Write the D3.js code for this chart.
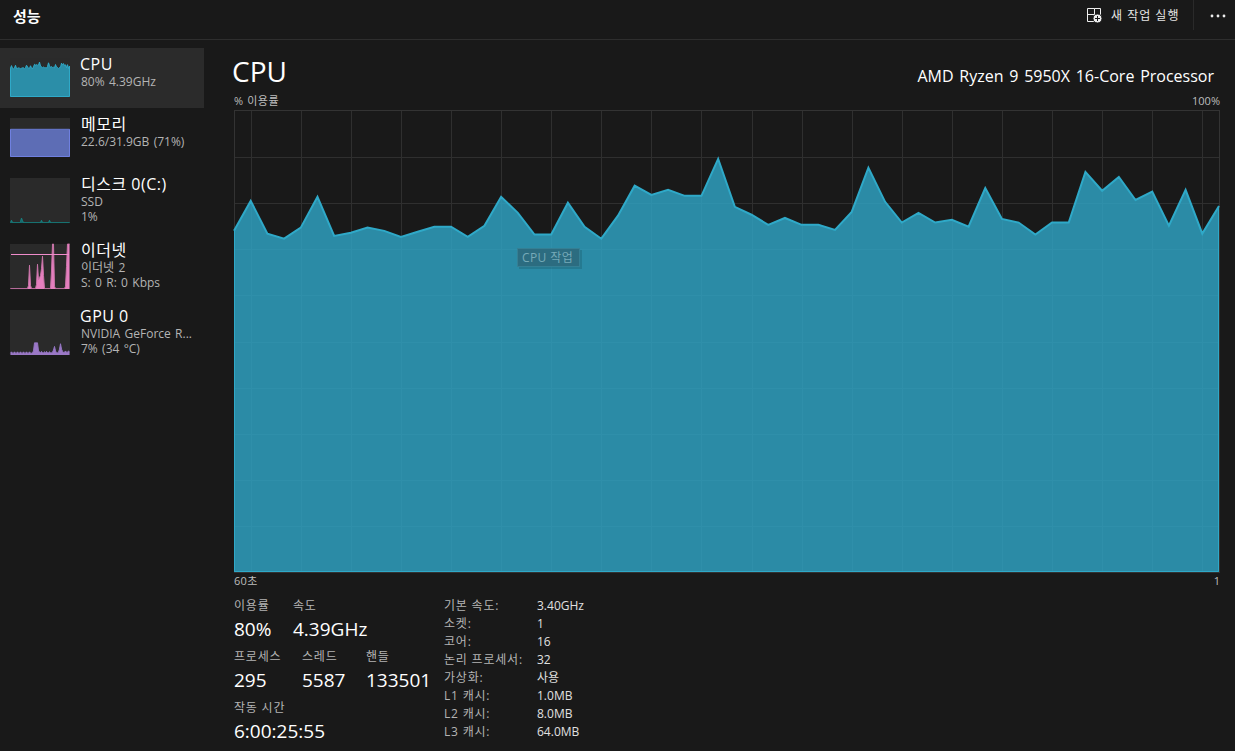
<!DOCTYPE html>
<html lang="ko">
<head>
<meta charset="utf-8">
<title>성능</title>
<script src="https://cdn.jsdelivr.net/npm/d3@7"></script>
<style>
  html, body { margin: 0; padding: 0; background: #191919; overflow: hidden; }
  svg { display: block; }
  text { font-family: "Open Sans", "Noto Sans CJK KR", sans-serif; fill: #fff; }
  .small { font-size: 11px; fill: #bdbdbd; }
  .label { font-size: 12px; fill: #b4b4b4; letter-spacing: 0.8px; }
  .big { font-size: 19px; fill: #fff; }
  .sub { font-size: 12px; fill: #b4b4b4; word-spacing: 1.2px; }
  .name { font-size: 16px; fill: #fff; letter-spacing: 0.5px; }
</style>
</head>
<body>
<svg id="chart" width="1235" height="751"></svg>
<script>
// last 60 seconds of cpu use, %
const cpuUsage = [74.0, 80.5, 73.4, 72.3, 74.7, 81.4, 72.9, 73.6, 74.7, 74.0,
  72.7, 73.8, 74.9, 74.9, 72.7, 75.1, 81.4, 77.9, 73.2, 73.2,
  80.1, 74.9, 72.3, 77.3, 83.8, 81.8, 82.9, 81.6, 81.6, 89.6,
  79.2, 77.5, 75.3, 76.8, 75.3, 75.3, 74.2, 78.1, 87.7, 80.3,
  75.8, 77.9, 75.8, 76.4, 74.9, 83.3, 76.6, 75.8, 73.2, 75.8,
  75.8, 86.8, 82.7, 85.7, 80.7, 82.5, 75.1, 82.9, 73.4, 79.4];

// sidebar sparklines, same 60 seconds
const memUsage = [71, 71, 71, 71, 71, 71, 71, 71, 71, 71, 71, 71, 71, 71, 71, 71, 71, 71, 71, 71,
  71, 71, 71, 71, 71, 71, 71, 71, 71, 71, 71, 71, 71, 71, 71, 71, 71, 71, 71, 71,
  71, 71, 71, 71, 71, 71, 71, 71, 71, 71, 71, 71, 71, 71, 71, 71, 71, 71, 71, 71];
const diskUsage = [1, 6, 1, 1, 1, 1, 1, 1, 1, 1, 3, 11, 5, 1, 1, 1, 1, 1, 1, 1,
  1, 1, 1, 1, 1, 1, 1, 1, 1, 1, 1, 6, 1, 1, 1, 1, 1, 1, 1, 6,
  1, 1, 1, 1, 1, 1, 1, 1, 1, 1, 1, 1, 1, 1, 1, 1, 1, 1, 1, 1];
const ethUsage = [1, 1, 1, 1, 1, 1, 1, 1, 1, 1, 1, 1, 1, 1, 1, 1, 1, 1, 8, 53,
  8, 1, 1, 1, 1, 1, 10, 55, 20, 25, 30, 45, 73, 30, 1, 1, 1, 1, 1, 1,
  1, 40, 100, 100, 6, 1, 1, 1, 1, 1, 1, 1, 1, 1, 1, 6, 50, 100, 100, 100];
const gpuUsage = [4, 7, 4, 4, 7, 4, 4, 7, 4, 4, 7, 4, 4, 7, 4, 4, 7, 4, 4, 7,
  4, 4, 5, 9, 27, 27, 27, 27, 9, 7, 5, 8, 5, 5, 7, 5, 8, 5, 5, 7,
  5, 5, 6, 11, 19, 9, 5, 5, 6, 13, 25, 13, 8, 6, 6, 9, 6, 6, 9, 7];

const yGrid = [10, 20, 30, 40, 50, 60, 70, 80, 90];
const xGrid = [1, 4, 7, 10, 13, 16, 19, 22, 25, 28, 31, 34, 37, 40, 43, 46, 49, 52, 55, 58];

const sideNames = ['CPU', '메모리', '디스크 0(C:)', '이더넷', 'GPU 0'];
const sideLine1 = ['80% 4.39GHz', '22.6/31.9GB (71%)', 'SSD', '이더넷 2', 'NVIDIA GeForce R...'];
const sideLine2 = ['', '', '1%', 'S: 0 R: 0 Kbps', '7% (34 °C)'];
const sideSeries = [cpuUsage, memUsage, diskUsage, ethUsage, gpuUsage];
const sideColors = ['#2b8ea8', '#5d6db5', '#146a6e', '#e57fbf', '#9b78c6'];
const sideLines = ['#2fa9c8', '#6f80e0', '#17807f', '#c974a8', '#9576c4'];
const sideEdges = [true, true, false, false, false];
const sideTops = [58, 118, 178, 244, 310];
const sideBottoms = [97, 157, 223, 289, 355];
const sideNameY = [70, 130, 190, 256, 322];

const statLabels = ['이용률', '속도', '프로세스', '스레드', '핸들', '작동 시간'];
const statValues = ['80%', '4.39GHz', '295', '5587', '133501', '6:00:25:55'];
const statX = [234, 293, 234, 302, 366, 234];
const statY = [610, 610, 661, 661, 661, 712];

const infoLabels = ['기본 속도:', '소켓:', '코어:', '논리 프로세서:', '가상화:', 'L1 캐시:', 'L2 캐시:', 'L3 캐시:'];
const infoValues = ['3.40GHz', '1', '16', '32', '사용', '1.0MB', '8.0MB', '64.0MB'];

const svg = d3.select('#chart');

function addText(x, y, str, cls) {
  return svg.append('text').attr('x', x).attr('y', y).attr('class', cls || null).text(str);
}

// top bar
svg.append('line').attr('x1', 0).attr('x2', 1235).attr('y1', 39.5).attr('y2', 39.5).attr('stroke', '#2e2e2e');
svg.append('line').attr('x1', 1193.5).attr('x2', 1193.5).attr('y1', 0).attr('y2', 30).attr('stroke', '#2a2a2a');
addText(13, 22, '성능').style('font-size', '15px').style('font-weight', 700);
addText(1111, 20, '새 작업 실행').style('font-size', '12px').style('letter-spacing', '1px').style('fill', '#e6e6e6');

// new task icon
const icon = svg.append('g').attr('fill', 'none').attr('stroke', '#eee').attr('stroke-width', 1);
icon.append('path').attr('d', 'M1094.5 8.5H1087.5V21.5H1094.5M1087.5 14.5H1100.5M1094.5 8.5H1100.5V14.5M1094.5 8.5V21.5');
icon.append('circle').attr('cx', 1097.5).attr('cy', 18.5).attr('r', 4.5).attr('fill', '#eee').attr('stroke', '#191919');
icon.append('path').attr('d', 'M1095 18.5H1100M1097.5 16V21').attr('stroke', '#191919');

// more button
svg.append('g').attr('fill', '#eee').selectAll('circle').data([1212, 1218, 1224]).join('circle')
  .attr('cx', d => d).attr('cy', 16).attr('r', 1.4);

// sidebar
svg.append('rect').attr('x', 0).attr('y', 48).attr('width', 204).attr('height', 60).attr('fill', '#2b2b2b');

sideNames.forEach((name, i) => {
  const boxTop = sideTops[i];
  const boxBottom = sideBottoms[i];
  const sx = d3.scaleLinear().domain([0, 59]).range([10.5, 69.5]);
  const sy = d3.scaleLinear().domain([0, 100]).range([boxBottom, boxTop]);

  svg.append('rect').attr('x', 10).attr('y', boxTop).attr('width', 60).attr('height', boxBottom - boxTop).attr('fill', '#2a2a2a');
  const area = d3.area().x((d, k) => sx(k)).y0(boxBottom).y1(d => sy(d));
  const line = d3.line().x((d, k) => sx(k)).y(d => sy(d));
  svg.append('path').attr('d', area(sideSeries[i])).attr('fill', sideColors[i]);
  svg.append('path').attr('d', line(sideSeries[i])).attr('fill', 'none').attr('stroke', sideLines[i]).attr('stroke-width', 1);

  // left, right and bottom edge of the filled part, only the big fills show one
  if (sideEdges[i]) {
    svg.append('path')
      .attr('d', d3.line()([[sx(0), sy(sideSeries[i][0])], [sx(0), boxBottom - 0.5], [sx(59), boxBottom - 0.5], [sx(59), sy(sideSeries[i][59])]]))
      .attr('fill', 'none').attr('stroke', sideLines[i]).attr('stroke-width', 1);
  }

  addText(i === 0 || i === 4 ? 80 : 81, sideNameY[i], name, 'name');
  addText(81, sideNameY[i] + 16, sideLine1[i], 'sub');
  if (sideLine2[i]) addText(81, sideNameY[i] + 31, sideLine2[i], 'sub');
});

// ethernet scale line
const ethY = d3.scaleLinear().domain([0, 100]).range([289, 244]);
svg.append('line').attr('x1', 11).attr('x2', 69).attr('y1', snapEth(75)).attr('y2', snapEth(75)).attr('stroke', '#f08ccb').attr('stroke-width', 1);
function snapEth(v) { return Math.round(ethY(v)) - 0.5; }

// main chart
const plotLeft = 234, plotRight = 1219, plotTop = 110, plotBottom = 572;
const x = d3.scaleLinear().domain([0, 59]).range([plotLeft, plotRight]);
const y = d3.scaleLinear().domain([0, 100]).range([plotBottom, plotTop + 1]);
const snap = v => Math.round(v) + 0.5;

addText(232, 82, 'CPU').style('font-size', '28px');
addText(1214, 82, 'AMD Ryzen 9 5950X 16-Core Processor').attr('text-anchor', 'end').style('font-size', '16px').style('word-spacing', '1.6px');
addText(234, 105, '% 이용률', 'small').style('letter-spacing', '0.6px');
addText(1220, 105, '100%', 'small').attr('text-anchor', 'end');
addText(234, 585, '60초', 'small').style('letter-spacing', '0.3px');
addText(1220, 585, '1', 'small').attr('text-anchor', 'end');

const grid = svg.append('g').attr('stroke', '#2f2f2f').attr('stroke-width', 1);
grid.selectAll('.gy').data(yGrid).join('line').attr('class', 'gy')
  .attr('x1', plotLeft).attr('x2', plotRight).attr('y1', d => snap(y(d))).attr('y2', d => snap(y(d)));
grid.selectAll('.gx').data(xGrid).join('line').attr('class', 'gx')
  .attr('y1', plotTop).attr('y2', plotBottom).attr('x1', d => snap(x(d))).attr('x2', d => snap(x(d)));
svg.append('rect').attr('x', plotLeft + 0.5).attr('y', plotTop + 0.5).attr('width', plotRight - plotLeft).attr('height', plotBottom - plotTop)
  .attr('fill', 'none').attr('stroke', '#333');

const cpuArea = d3.area().x((d, i) => x(i)).y0(plotBottom).y1(d => y(d));
const cpuLine = d3.line().x((d, i) => x(i)).y(d => y(d));
svg.append('path').attr('d', cpuArea(cpuUsage)).attr('fill', '#2fa5c6').attr('fill-opacity', 0.82);
svg.append('path').attr('d', cpuLine(cpuUsage)).attr('fill', 'none').attr('stroke', '#2fa9c8').attr('stroke-width', 2);
svg.append('path')
  .attr('d', d3.line()([[plotLeft + 0.5, y(cpuUsage[0])], [plotLeft + 0.5, plotBottom - 0.5], [plotRight - 0.5, plotBottom - 0.5], [plotRight - 0.5, y(cpuUsage[59])]]))
  .attr('fill', 'none').attr('stroke', '#2fa9c8').attr('stroke-width', 1);

// hover tooltip
svg.append('rect').attr('x', 519).attr('y', 250).attr('width', 63).attr('height', 19).attr('fill', '#000').attr('opacity', 0.12);
svg.append('rect').attr('x', 517.5).attr('y', 248.5).attr('width', 62).attr('height', 18)
  .attr('fill', '#2c6c80').attr('stroke', '#357f94');
addText(522, 262, 'CPU 작업').style('font-size', '12px').style('letter-spacing', '0.4px').style('fill', '#76aab8');

// stats under the chart
statLabels.forEach((s, i) => {
  addText(statX[i], statY[i], s, 'label');
  addText(statX[i], statY[i] + 26, statValues[i], 'big');
});
infoLabels.forEach((s, i) => {
  addText(444, 610 + i * 18, s, 'label');
  addText(537, 610 + i * 18, infoValues[i], 'label').style('fill', '#e0e0e0').style('letter-spacing', '0');
});
</script>
</body>
</html>
